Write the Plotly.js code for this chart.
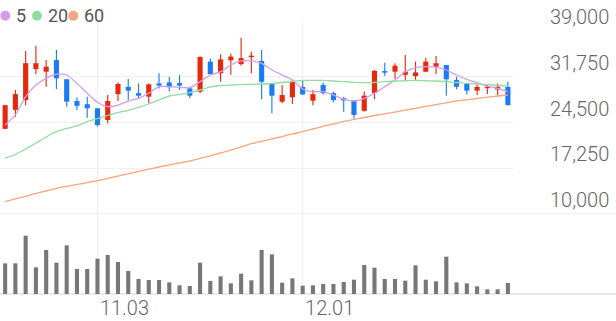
<!DOCTYPE html>
<html>
<head>
<meta charset="utf-8">
<script src="https://cdn.plot.ly/plotly-3.0.1.min.js"></script>
<style>html,body{margin:0;padding:0;background:#fff;}#chart{width:616px;height:321px;}</style>
</head>
<body>
<div id="chart"></div>
<script>
// ---- data ----
const tickLabels = ['11.03', '12.01'];
const tickIndex = [9, 29];
const priceTicks = [10000, 17250, 24500, 31750, 39000];
const maNames = ['5', '20', '60'];

const open  = [23500,26500,28050,32950,32550,34400,31350,27900,27400,26750,24900,29000,30150,29150,28600,30700,30850,30750,29900,29400,34150,32300,34350,33750,34850,34250,30700,27800,28500,30150,27950,30450,29150,28350,28000,26350,29150,32650,32550,32050,31850,32550,33350,33600,31250,30600,29550,29950,29750,30150];
const high  = [27300,29650,35850,36650,34400,36000,31350,28450,28600,26750,28850,30850,31400,30700,30700,32300,31750,32000,30150,34950,34650,35300,35450,37950,35700,36000,30700,30450,31250,31250,29650,30850,29400,28600,28000,29400,32800,33950,33900,35200,34150,34750,35050,33600,31750,30700,30550,30450,30700,30950];
const low   = [23450,25400,27250,32150,30150,29800,27000,26500,25250,23850,24350,27900,28050,28200,27550,29900,29400,29650,28350,29150,32150,30950,32050,33500,32300,28200,25950,27550,27450,28850,27250,28950,27700,26200,25150,26200,28200,31900,31400,31250,31250,32450,32150,28750,29750,28950,28850,29000,28850,27250];
const close = [27250,29000,33900,33900,33350,31500,27800,27150,26750,24100,27900,30600,29550,28750,30550,30350,30100,30350,28750,34900,32150,34500,34950,34700,35100,30950,28750,28850,30950,28950,29000,29150,28050,28000,25700,28750,32700,32400,33500,32550,32450,34150,33900,31350,30150,29550,30150,30150,30150,27250];
const volume = [184000,184000,350000,160000,264000,188000,292000,150000,150000,212000,234000,192000,138000,90000,84000,84000,70000,52000,48000,188000,78000,106000,64000,122000,82000,264000,238000,68000,94000,50000,52000,60000,60000,72000,86000,174000,158000,90000,90000,80000,172000,86000,76000,224000,70000,64000,46000,28000,28000,66000];

const ma5  = [24100,25700,28600,30450,31500,32150,32030,30700,29130,27700,27000,27270,27900,28330,29130,30170,30170,30080,30010,30970,32030,32550,33610,34250,34250,33880,32820,32030,31240,29810,29380,29380,28860,28220,27910,28340,29130,30170,31240,32550,33180,33340,33250,32820,32030,31350,30810,30280,29920,29380];
const ma20 = [18830,19430,20300,21250,22200,23040,23550,23950,24660,25130,25610,26090,26430,26880,27430,28070,28700,28940,29220,29650,30130,30360,30440,30490,30550,30600,30680,30840,31000,31160,31190,31160,31080,30970,30870,30810,30840,30970,31080,31120,31160,31120,31080,30970,30840,30710,30600,30490,30400,30280];
const ma60 = [11950,12380,12800,13250,13650,14070,14390,14680,14960,15280,15630,16020,16370,16750,17100,17450,17770,18110,18400,18800,19220,19670,20110,20620,21140,21520,21890,22280,22680,23040,23470,23900,24260,24660,25010,25290,25610,25880,26160,26450,26750,27040,27340,27620,27910,28100,28300,28510,28700,28860];

// ---- styling ----
const RED = '#e6290c', BLUE = '#1b7bf2', VOL = '#777777';
const MA_COLORS = ['#d79bee', '#92dba1', '#f7a57e'];
const FONT = 'Roboto, "Noto Sans", sans-serif';

const n = close.length;
const xs = close.map((_, i) => i);
const up = close.map((c, i) => c >= open[i]);
const candleColors = up.map(u => u ? RED : BLUE);

const traces = [];
// wicks
traces.push({
  type: 'bar', x: xs, base: low, y: high.map((h, i) => h - low[i]),
  width: 0.11, marker: {color: candleColors, line: {width: 0}},
  xaxis: 'x', yaxis: 'y', hoverinfo: 'skip', showlegend: false
});
// bodies
traces.push({
  type: 'bar', x: xs,
  base: open.map((o, i) => Math.min(o, close[i])),
  y: open.map((o, i) => Math.max(Math.abs(close[i] - o), 90)),
  width: 0.5, marker: {color: candleColors, line: {width: 0}},
  xaxis: 'x', yaxis: 'y', hoverinfo: 'skip', showlegend: false
});
// moving averages
[ma5, ma20, ma60].forEach((arr, k) => {
  traces.push({
    type: 'scatter', mode: 'lines', x: xs, y: arr,
    line: {color: MA_COLORS[k], width: 1.3, shape: 'spline', smoothing: 0.6},
    xaxis: 'x', yaxis: 'y', hoverinfo: 'skip', showlegend: false, name: maNames[k]
  });
});
// volume
traces.push({
  type: 'bar', x: xs, y: volume, width: 0.4,
  marker: {color: VOL, line: {width: 0}},
  xaxis: 'x', yaxis: 'y2', hoverinfo: 'skip', showlegend: false
});

const W = 616, H = 321, ML = 0, MR = 103, MT = 31, MB = 27;
const PW = W - ML - MR, PH = H - MT - MB;
const px2x = px => (px - ML) / PW;
const py2y = py => (H - MB - py) / PH;

const shapes = [];
// vertical date gridlines
tickIndex.forEach(t => shapes.push({
  type: 'line', xref: 'x', yref: 'paper', x0: t, x1: t, y0: 0, y1: py2y(22),
  line: {color: '#eeeeee', width: 1}, layer: 'below'
}));
// separator at bottom of price pane and volume baseline (full width)
shapes.push({type: 'line', xref: 'paper', yref: 'y', x0: px2x(0), x1: px2x(W), y0: priceTicks[0], y1: priceTicks[0],
  line: {color: '#ececec', width: 1.5}, layer: 'below'});
shapes.push({type: 'line', xref: 'paper', yref: 'paper', x0: px2x(0), x1: px2x(W), y0: 0, y1: 0,
  line: {color: '#e2e2e2', width: 1.5}, layer: 'below'});

// legend
const legendCircleX = [5.3, 37, 73.3];
const legendTextX = [14, 46, 82];
const annotations = [];
maNames.forEach((name, k) => {
  shapes.push({
    type: 'circle', xref: 'paper', yref: 'paper', xsizemode: 'pixel', ysizemode: 'pixel',
    xanchor: px2x(legendCircleX[k]), yanchor: py2y(15.7),
    x0: -5, x1: 5, y0: -5, y1: 5,
    fillcolor: MA_COLORS[k], line: {width: 0}
  });
  annotations.push({
    xref: 'paper', yref: 'paper', x: px2x(legendTextX[k]), y: py2y(15.5),
    xanchor: 'left', yanchor: 'middle', showarrow: false, text: name,
    font: {family: FONT, size: 18, color: '#555555'}
  });
});

const priceBottom = py2y(214);
const volTop = py2y(228);

const layout = {
  width: W, height: H,
  margin: {l: ML, r: MR, t: MT, b: MB, pad: 0},
  paper_bgcolor: '#ffffff', plot_bgcolor: '#ffffff',
  barmode: 'overlay', showlegend: false,
  xaxis: {
    range: [-0.5, n - 0.5], anchor: 'y2',
    tickvals: tickIndex, ticktext: tickLabels, ticks: '',
    showgrid: false, zeroline: false, showline: false,
    ticklabelshift: 27, ticklabelstandoff: 0,
    tickfont: {family: FONT, size: 20, color: '#666666', weight: 300}
  },
  yaxis: {
    domain: [priceBottom, 1], range: [priceTicks[0], priceTicks[priceTicks.length - 1]],
    side: 'right', anchor: 'x', tickvals: priceTicks, tickformat: ',', ticks: '',
    ticklabelposition: 'outside top',
    showgrid: true, gridcolor: '#f0f0f0', gridwidth: 1, zeroline: false, showline: false,
    ticklabelstandoff: 36,
    tickfont: {family: FONT, size: 20, color: '#666666', weight: 300}
  },
  yaxis2: {
    domain: [0, volTop], range: [0, 396000], anchor: 'x',
    showgrid: false, zeroline: false, showline: false, showticklabels: false, ticks: ''
  },
  shapes: shapes, annotations: annotations
};

Plotly.newPlot('chart', traces, layout, {staticPlot: true, displayModeBar: false});
</script>
</body>
</html>
